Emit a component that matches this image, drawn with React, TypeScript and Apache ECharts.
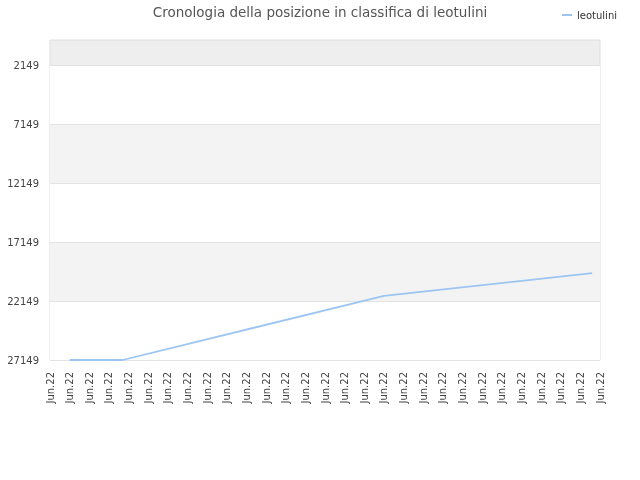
import { useEffect, useRef } from 'react'
import * as echarts from 'echarts'

// ─── 数据 ───
const X_LABELS = Array.from({ length: 29 }, () => 'Jun.22')
const Y_TICKS = [2149, 7149, 12149, 17149, 22149, 27149]
const POS_X = [1, 3.7, 17.0, 27.6]
const POS_Y = [27149, 27149, 21700, 19780]

const FONT = 'DejaVu Sans, sans-serif'

export default function App() {
  const ref = useRef<HTMLDivElement>(null)

  useEffect(() => {
    if (!ref.current) return
    const chart = echarts.init(ref.current, undefined, { renderer: 'svg' })

    chart.setOption({
      animation: false,
      textStyle: { fontFamily: FONT },
      title: {
        text: 'Cronologia della posizione in classifica di leotulini',
        left: 'center',
        top: 0,
        textStyle: { fontSize: 13.5, fontWeight: 'normal', color: '#555', fontFamily: FONT },
      },
      legend: {
        right: 18,
        top: 5,
        icon: 'rect',
        itemWidth: 10,
        itemHeight: 2,
        itemGap: 8,
        textStyle: { fontSize: 10, color: '#333', fontFamily: FONT },
        data: ['leotulini'],
      },
      grid: {
        left: 50, right: 40, top: 40, bottom: 120,
        show: true, backgroundColor: '#eeeeee', borderColor: '#dddddd', borderWidth: 1,
      },
      xAxis: {
        type: 'value',
        min: 0,
        max: X_LABELS.length - 1,
        interval: 1,
        axisLine: { show: false },
        axisTick: { show: false },
        splitLine: { show: false },
        axisLabel: {
          rotate: 90,
          fontSize: 10,
          color: '#444',
          margin: 12,
          formatter: (v: number) => X_LABELS[Math.round(v)] ?? '',
        },
      },
      yAxis: {
        type: 'value',
        inverse: true,
        min: 0,
        max: 27149,
        axisLine: { show: false },
        axisTick: { show: false, customValues: Y_TICKS },
        axisLabel: {
          fontSize: 10, color: '#444', margin: 11, customValues: Y_TICKS,
          formatter: (v: number) => String(v),
        },
        splitLine: { show: true, lineStyle: { color: '#e3e3e3', width: 1 } },
        splitArea: { show: true, areaStyle: { color: ['#ffffff', '#f3f3f3'] } },
      },
      series: [{
        name: 'leotulini',
        type: 'line',
        symbol: 'none',
        lineStyle: { color: '#9cc5f2', width: 1.8 },
        itemStyle: { color: '#9cc5f2' },
        data: POS_X.map((x, i) => [x, POS_Y[i]]),
      }],
    })

    return () => chart.dispose()
  }, [])

  return <div ref={ref} style={{ position: 'fixed', left: 0, top: 0, width: 640, height: 480 }} />
}
